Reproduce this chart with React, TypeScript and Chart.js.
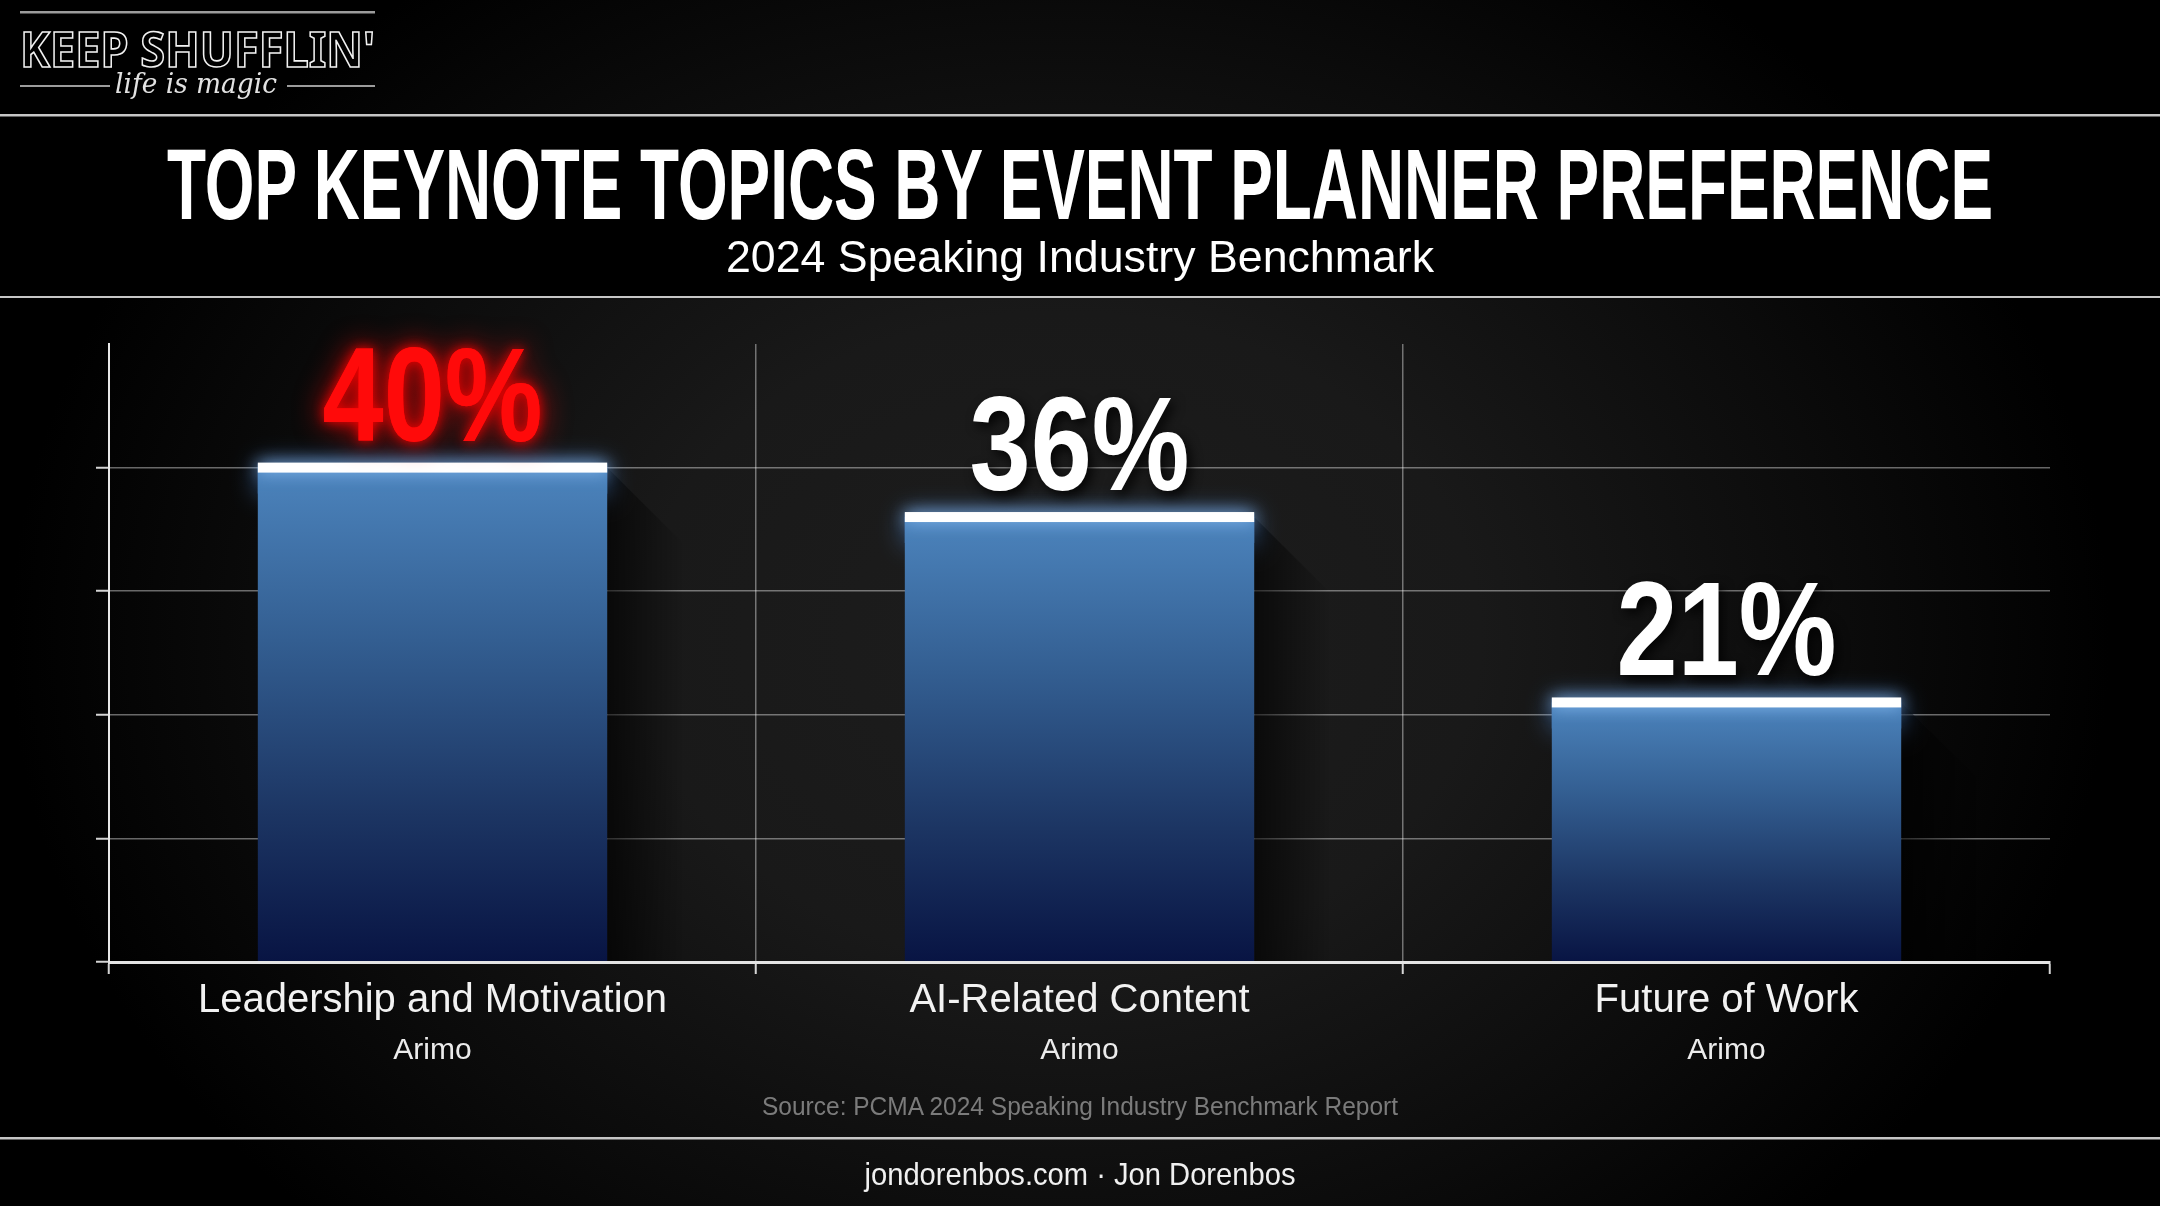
import React, { useEffect, useRef } from 'react';
import { Chart, registerables } from 'chart.js';

Chart.register(...registerables);

// ---- data ----
const categories = ['Leadership and Motivation', 'AI-Related Content', 'Future of Work'];
const subLabels = ['Arimo', 'Arimo', 'Arimo'];
const values = [40, 36, 21];
const valueLabels = ['40%', '36%', '21%'];
const yTicks = [0, 10, 20, 30, 40, 50];

const titleText = 'TOP KEYNOTE TOPICS BY EVENT PLANNER PREFERENCE';
const subtitleText = '2024 Speaking Industry Benchmark';
const sourceText = 'Source: PCMA 2024 Speaking Industry Benchmark Report';
const footerText = 'jondorenbos.com · Jon Dorenbos';
const logoText = "KEEP SHUFFLIN'";
const logoTagline = 'life is magic';

// ---- styles ----
const labelColors = ['#ff0a0a', '#ffffff', '#ffffff'];
const GRID = 'rgba(255,255,255,0.40)';
const TICK = 'rgba(235,235,235,0.9)';
const VALUE_FONT = 'bold 134px "Liberation Sans Narrow", "Liberation Sans", sans-serif';
const VALUE_SQUEEZE = 0.82;

const decorPlugin = {
  id: 'decor',
  beforeDatasetsDraw(chart: any) {
    const ctx = chart.ctx;
    const meta = chart.getDatasetMeta(0);
    meta.data.forEach((bar: any) => {
      const { x, y, base, width } = bar.getProps(['x', 'y', 'base', 'width'], true);
      const left = x - width / 2;
      const right = x + width / 2;
      const L = 75;
      ctx.save();
      const g = ctx.createLinearGradient(right, 0, right + L, 0);
      g.addColorStop(0, 'rgba(0,0,0,0.6)');
      g.addColorStop(1, 'rgba(0,0,0,0)');
      ctx.fillStyle = g;
      ctx.beginPath();
      ctx.moveTo(right, y);
      ctx.lineTo(right + L, y + L);
      ctx.lineTo(right + L, base);
      ctx.lineTo(right, base);
      ctx.closePath();
      ctx.fill();
      ctx.shadowColor = 'rgba(90,160,255,0.55)';
      ctx.shadowBlur = 26;
      ctx.fillStyle = 'rgba(70,120,180,1)';
      ctx.fillRect(left, y - 4, width, 30);
      ctx.restore();
    });
  },
  afterDatasetsDraw(chart: any) {
    const ctx = chart.ctx;
    const meta = chart.getDatasetMeta(0);
    const area = chart.chartArea;
    meta.data.forEach((bar: any, i: number) => {
      const { x, y, width } = bar.getProps(['x', 'y', 'width'], true);
      ctx.save();
      ctx.shadowColor = 'rgba(150,200,255,0.8)';
      ctx.shadowBlur = 16;
      ctx.fillStyle = '#ffffff';
      ctx.fillRect(x - width / 2, y - 5, width, 10);
      ctx.restore();

      ctx.save();
      ctx.font = VALUE_FONT;
      ctx.textAlign = 'center';
      ctx.textBaseline = 'alphabetic';
      ctx.translate(x, y - 27);
      ctx.scale(VALUE_SQUEEZE, 1);
      const color = labelColors[i];
      if (color !== '#ffffff') {
        ctx.shadowColor = 'rgba(255,0,0,0.9)';
        ctx.shadowBlur = 30;
        ctx.fillStyle = color;
        ctx.fillText(valueLabels[i], 0, 0);
        ctx.shadowBlur = 12;
        ctx.fillText(valueLabels[i], 0, 0);
      } else {
        ctx.shadowColor = 'rgba(0,0,0,0.85)';
        ctx.shadowBlur = 12;
        ctx.shadowOffsetX = 4;
        ctx.shadowOffsetY = 5;
        ctx.fillStyle = color;
        ctx.fillText(valueLabels[i], 0, 0);
      }
      ctx.restore();
    });

    const xs = chart.scales.x;
    ctx.save();
    ctx.textAlign = 'center';
    ctx.textBaseline = 'alphabetic';
    categories.forEach((c, i) => {
      const px = xs.getPixelForValue(i);
      ctx.font = '40px "Liberation Sans", Arial, sans-serif';
      ctx.fillStyle = '#f2f2f2';
      ctx.fillText(c, px, area.bottom + 50);
      ctx.font = '30px "Liberation Sans", Arial, sans-serif';
      ctx.fillStyle = '#ececec';
      ctx.fillText(subLabels[i], px, area.bottom + 97);
    });
    ctx.restore();
  },
};

function ChartCanvas() {
  const ref = useRef<HTMLCanvasElement | null>(null);
  useEffect(() => {
    if (!ref.current) return;
    const yMax = yTicks[yTicks.length - 1];
    const chart = new Chart(ref.current, {
      type: 'bar',
      data: {
        labels: categories,
        datasets: [
          {
            data: values,
            borderWidth: 0,
            categoryPercentage: 1,
            barPercentage: 0.54,
            backgroundColor: (c: any) => {
              const ch = c.chart;
              if (!ch.chartArea || c.raw == null) return '#2c5080';
              const top = ch.scales.y.getPixelForValue(c.raw);
              const bot = ch.scales.y.getPixelForValue(0);
              const g = ch.ctx.createLinearGradient(0, top, 0, bot);
              g.addColorStop(0, '#4c84bd');
              g.addColorStop(0.35, '#335e91');
              g.addColorStop(0.7, '#1c3563');
              g.addColorStop(1, '#081443');
              return g;
            },
          },
        ],
      },
      options: {
        responsive: false,
        animation: false,
        devicePixelRatio: 1,
        events: [],
        layout: { padding: { left: 96, right: 110, top: 344, bottom: 232 } },
        plugins: { legend: { display: false }, tooltip: { enabled: false }, title: { display: false } },
        scales: {
          x: {
            type: 'category',
            offset: true,
            ticks: { display: false },
            grid: {
              offset: true,
              color: (c: any) => (c.tick ? GRID : 'transparent'),
              lineWidth: 1.5,
              drawTicks: true,
              tickLength: 12,
              tickColor: TICK,
              tickWidth: 2,
            },
            border: { display: true, color: '#e4e4e4', width: 3, z: 1 },
            afterFit: (s: any) => {
              s.height = 12;
            },
          },
          y: {
            min: yTicks[0],
            max: yMax,
            ticks: { display: false, stepSize: yTicks[1] - yTicks[0] },
            grid: {
              color: (c: any) => (c.tick && c.tick.value === yMax ? 'transparent' : GRID),
              lineWidth: 1.5,
              drawTicks: true,
              tickLength: 13,
              tickColor: (c: any) => (c.tick && c.tick.value === yMax ? 'transparent' : TICK),
              tickWidth: 2,
            },
            border: { display: true, color: '#e8e8e8', width: 2 },
            afterFit: (s: any) => {
              s.width = 13;
            },
          },
        },
      },
      plugins: [decorPlugin],
    } as any);
    return () => chart.destroy();
  }, []);
  return (
    <canvas
      ref={ref}
      width={2160}
      height={1206}
      style={{ position: 'absolute', left: 0, top: 0, width: 2160, height: 1206 }}
    />
  );
}

export default function App() {
  return (
    <div
      style={{
        position: 'absolute',
        left: 0,
        top: 0,
        width: 2160,
        height: 1206,
        overflow: 'hidden',
        background:
          'radial-gradient(ellipse 1050px 820px at 1060px 640px, #1d1d1d 0%, #191919 40%, #0b0b0b 75%, #000000 100%)',
      }}
    >
      <div style={{ position: 'absolute', left: 0, top: 116, width: 2160, height: 181, background: '#000' }} />
      <ChartCanvas />
      <svg
        width={2160}
        height={1206}
        style={{ position: 'absolute', left: 0, top: 0, pointerEvents: 'none' }}
      >
        <rect x={0} y={114} width={2160} height={2.5} fill="#c6c6c6" />
        <rect x={0} y={296} width={2160} height={2} fill="#c6c6c6" />
        <rect x={0} y={1137} width={2160} height={2.5} fill="#c6c6c6" />

        <rect x={20} y={11} width={355} height={2.5} fill="#9c9c9c" />
        <rect x={20} y={85} width={90} height={2} fill="#9c9c9c" />
        <rect x={287} y={85} width={88} height={2} fill="#9c9c9c" />
        <text
          x={20}
          y={67}
          fontFamily="'Noto Sans', 'DejaVu Sans', sans-serif"
          fontWeight={700}
          fontSize={49}
          fill="none"
          stroke="#f2f2f2"
          strokeWidth={1.6}
          textLength={355}
          lengthAdjust="spacingAndGlyphs"
        >
          {logoText}
        </text>
        <text
          x={115}
          y={93}
          fontFamily="'DejaVu Serif', 'Liberation Serif', serif"
          fontStyle="italic"
          fontSize={27}
          fill="#e2e2e2"
          textLength={162}
          lengthAdjust="spacingAndGlyphs"
        >
          {logoTagline}
        </text>

        <text
          x={1080}
          y={219}
          textAnchor="middle"
          fontFamily="'Liberation Sans Narrow', 'Liberation Sans', sans-serif"
          fontWeight={700}
          fontSize={100}
          fill="#ffffff"
          textLength={1826}
          lengthAdjust="spacingAndGlyphs"
        >
          {titleText}
        </text>
        <text
          x={1080}
          y={272}
          textAnchor="middle"
          fontFamily="'Liberation Sans', Arial, sans-serif"
          fontSize={45}
          fill="#ffffff"
          textLength={708}
          lengthAdjust="spacingAndGlyphs"
        >
          {subtitleText}
        </text>

        <text
          x={1080}
          y={1115}
          textAnchor="middle"
          fontFamily="'Liberation Sans', Arial, sans-serif"
          fontSize={25.5}
          fill="#7b7b7b"
          textLength={636}
          lengthAdjust="spacingAndGlyphs"
        >
          {sourceText}
        </text>
        <text
          x={1080}
          y={1185}
          textAnchor="middle"
          fontFamily="'Liberation Sans', Arial, sans-serif"
          fontSize={30.5}
          fill="#f0f0f0"
          textLength={431}
          lengthAdjust="spacingAndGlyphs"
        >
          {footerText}
        </text>
      </svg>
    </div>
  );
}
